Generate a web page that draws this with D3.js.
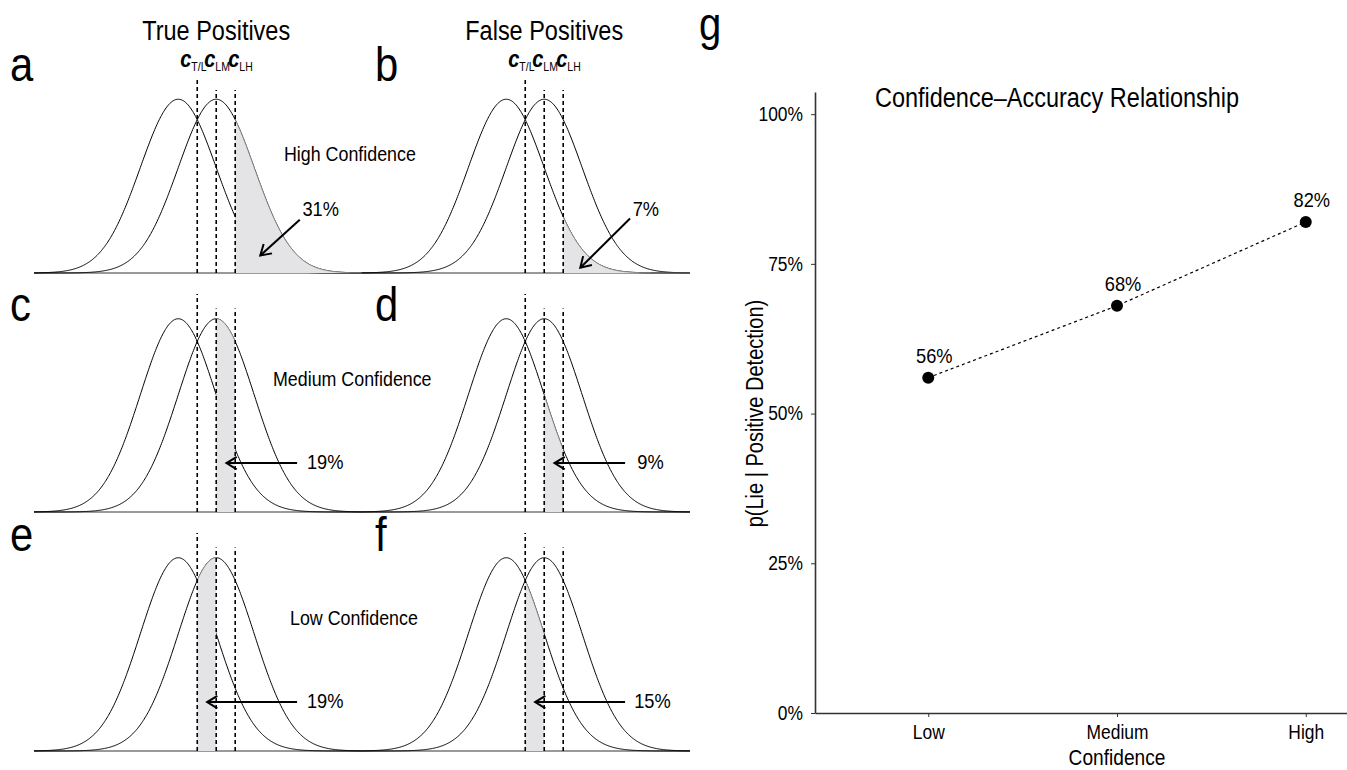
<!DOCTYPE html>
<html>
<head>
<meta charset="utf-8">
<script src="https://cdn.jsdelivr.net/npm/d3@7"></script>
<style>
body { margin: 0; background: #fff; }
text { font-family: "Liberation Sans", Arial, sans-serif; fill: #000; }
</style>
</head>
<body>
<svg id="chart" width="1347" height="770"></svg>
<script>
// signal detection panels
var columns = ["True Positives", "False Positives"];
var rowLabels = ["High Confidence", "Medium Confidence", "Low Confidence"];
var letters = [["a", "b"], ["c", "d"], ["e", "f"]];
var means = [0, 1];               // truth, lie
var sd = 1;
var criteria = [0.5, 1, 1.5];     // c T/L, c LM, c LH
var criterionNames = ["T/L", "LM", "LH"];
var criterionHeights = [0.45, 0.42, 0.42];
var shadeRanges = [[1.5, 4.84], [1, 1.5], [0.5, 1]];
var shadeDist = [1, 0];           // TP shades the lie curve, FP the truth curve
var percents = [["31%", "7%"], ["19%", "9%"], ["19%", "15%"]];

// confidence-accuracy panel
var levels = ["Low", "Medium", "High"];
var pLie = [0.56, 0.68, 0.82];
var yTicks = [0, 0.25, 0.5, 0.75, 1];

var svg = d3.select("#chart");
var narrow = 0.87;   // condensed look

var xDomain = [-3.8, 4.84];
var colRange = [[34, 362], [362, 690]];
var rowBase = [273, 512, 751];
var rowTop = [77, 294, 533];

// annotation placement, in data units of each panel
var arrows = [
    [{from: [3.2, 0.122], to: [2.16, 0.04]}, {from: [3.26, 0.125], to: [1.95, 0.012]}],
    [{from: [3.13, 0.101], to: [1.27, 0.101]}, {from: [3.13, 0.101], to: [1.27, 0.101]}],
    [{from: [3.13, 0.101], to: [0.76, 0.101]}, {from: [3.13, 0.101], to: [0.76, 0.101]}]
];
var pctPos = [[[3.27, 0.132], [3.33, 0.132]], [[3.39, 0.089], [3.45, 0.089]], [[3.39, 0.089], [3.37, 0.089]]];
var rowLabelPos = [[284, 161], [273, 386], [290, 625]];
var letterY = [81, 321, 551];

function label(parent, x, y, str, size, anchor, rot) {
    return parent.append("text")
        .attr("transform", "translate(" + x + "," + y + ")" + (rot ? " rotate(" + rot + ")" : "") +
            " scale(" + narrow + ",1)")
        .attr("text-anchor", anchor || "start")
        .style("font-size", size + "px")
        .text(str);
}

function dens(x, m) {
    var z = (x - m) / sd;
    return Math.exp(-0.5 * z * z) / (sd * Math.sqrt(2 * Math.PI));
}

function drawArrow(g, x1, y1, x2, y2) {
    var a = Math.atan2(y1 - y2, x1 - x2);
    var len = 12, sp = 0.55;
    g.append("line")
        .attr("x1", x1).attr("y1", y1).attr("x2", x2).attr("y2", y2)
        .attr("stroke", "#000").attr("stroke-width", 2);
    g.append("path")
        .attr("d", "M" + (x2 + len * Math.cos(a + sp)) + "," + (y2 + len * Math.sin(a + sp)) +
            "L" + x2 + "," + y2 +
            "L" + (x2 + len * Math.cos(a - sp)) + "," + (y2 + len * Math.sin(a - sp)))
        .attr("fill", "none").attr("stroke", "#000").attr("stroke-width", 2);
}

var xs = d3.range(xDomain[0], xDomain[1] + 0.001, 0.02);

rowLabels.forEach(function (rowName, r) {
    columns.forEach(function (colName, c) {
        var x = d3.scaleLinear().domain(xDomain).range(colRange[c]);
        var y = d3.scaleLinear().domain([0, 0.45]).range([rowBase[r], rowTop[r]]);
        var g = svg.append("g");

        g.append("line")
            .attr("x1", x(xDomain[0])).attr("x2", x(xDomain[1]))
            .attr("y1", y(0)).attr("y2", y(0))
            .attr("stroke", "#777").attr("stroke-width", 1.5);

        var line = d3.line()
            .x(function (d) { return x(d[0]); })
            .y(function (d) { return y(d[1]); });

        means.forEach(function (m) {
            g.append("path")
                .datum(xs.map(function (v) { return [v, dens(v, m)]; }))
                .attr("d", line)
                .attr("fill", "none").attr("stroke", "#000").attr("stroke-width", 1);
        });

        var lo = shadeRanges[r][0], hi = shadeRanges[r][1];
        var m = means[shadeDist[c]];
        var pts = d3.range(lo, hi + 0.0001, 0.01).map(function (v) { return [v, dens(v, m)]; });
        g.append("path")
            .datum(pts)
            .attr("d", d3.area()
                .x(function (d) { return x(d[0]); })
                .y0(y(0))
                .y1(function (d) { return y(d[1]); }))
            .attr("fill", "#e4e4e6");
        g.append("path")
            .datum(pts)
            .attr("d", line)
            .attr("fill", "none").attr("stroke", "#8a8a8a").attr("stroke-width", 0.9);

        criteria.forEach(function (cv, i) {
            g.append("line")
                .attr("x1", x(cv)).attr("x2", x(cv))
                .attr("y1", y(0)).attr("y2", y(criterionHeights[i]))
                .attr("stroke", "#000").attr("stroke-width", 1.6)
                .attr("stroke-dasharray", "4,3");
        });

        var ar = arrows[r][c];
        drawArrow(g, x(ar.from[0]), y(ar.from[1]), x(ar.to[0]), y(ar.to[1]));

        label(g, x(pctPos[r][c][0]), y(pctPos[r][c][1]), percents[r][c], 21);

        label(g, x(xDomain[0]) - 24 + (c === 0 ? 0 : 37), letterY[r], letters[r][c], 48);

        if (r === 0) {
            label(g, x(1), 40, colName, 27, "middle");

            var offs = [-17, -12, -7];
            criteria.forEach(function (cv, i) {
                var t = g.append("text")
                    .attr("transform", "translate(" + (x(cv) + offs[i]) + ",67) scale(" + narrow + ",1)");
                t.append("tspan")
                    .style("font-size", "23px").style("font-style", "italic").style("font-weight", "bold")
                    .text("c");
                t.append("tspan")
                    .attr("dy", 4)
                    .style("font-size", "12px")
                    .text(criterionNames[i]);
            });
        }
    });

    label(svg, rowLabelPos[r][0], rowLabelPos[r][1], rowName, 20.5);
});

// panel g
var gx = d3.scalePoint().domain(levels).range([815, 1419]).padding(0.6);
var gy = d3.scaleLinear().domain([0, 1.037]).range([713, 92]);

label(svg, 699, 40, "g", 46);
label(svg, 1057, 107, "Confidence\u2013Accuracy Relationship", 27, "middle");

var yAxis = svg.append("g")
    .attr("transform", "translate(815,0)")
    .call(d3.axisLeft(gy).tickValues(yTicks).tickFormat(d3.format(".0%"))
        .tickSize(4).tickSizeOuter(0).tickPadding(8));

var xAxis = svg.append("g")
    .attr("transform", "translate(0,713)")
    .call(d3.axisBottom(gx).tickSize(4).tickSizeOuter(0).tickPadding(8));

[yAxis, xAxis].forEach(function (ax) {
    ax.select(".domain").attr("stroke", "#333").attr("stroke-width", 1.6);
    ax.selectAll(".tick line").attr("stroke", "#333");
    ax.selectAll(".tick text").each(function () {
        var t = d3.select(this);
        var tx = +t.attr("x") || 0, ty = +t.attr("y") || 0;
        t.attr("x", 0).attr("y", 0)
            .attr("transform", "translate(" + tx + "," + ty + ") scale(" + narrow + ",1)")
            .style("font-family", "\"Liberation Sans\", Arial, sans-serif")
            .style("font-size", "20px").attr("fill", "#000");
    });
});

label(svg, 763, gy(0.5), "p(Lie | Positive Detection)", 23, "middle", -90);
label(svg, gx("Medium"), 765, "Confidence", 22, "middle");

var pts = levels.map(function (l, i) { return {level: l, p: pLie[i]}; });

svg.append("path")
    .datum(pts)
    .attr("d", d3.line()
        .x(function (d) { return gx(d.level); })
        .y(function (d) { return gy(d.p); }))
    .attr("fill", "none").attr("stroke", "#000").attr("stroke-width", 1.2)
    .attr("stroke-dasharray", "3,3");

svg.selectAll(".pt")
    .data(pts)
    .enter().append("circle")
    .attr("class", "pt")
    .attr("cx", function (d) { return gx(d.level); })
    .attr("cy", function (d) { return gy(d.p); })
    .attr("r", 6);

pts.forEach(function (d) {
    label(svg, gx(d.level) + 6, gy(d.p) - 15, Math.round(d.p * 100) + "%", 21, "middle");
});
</script>
</body>
</html>
